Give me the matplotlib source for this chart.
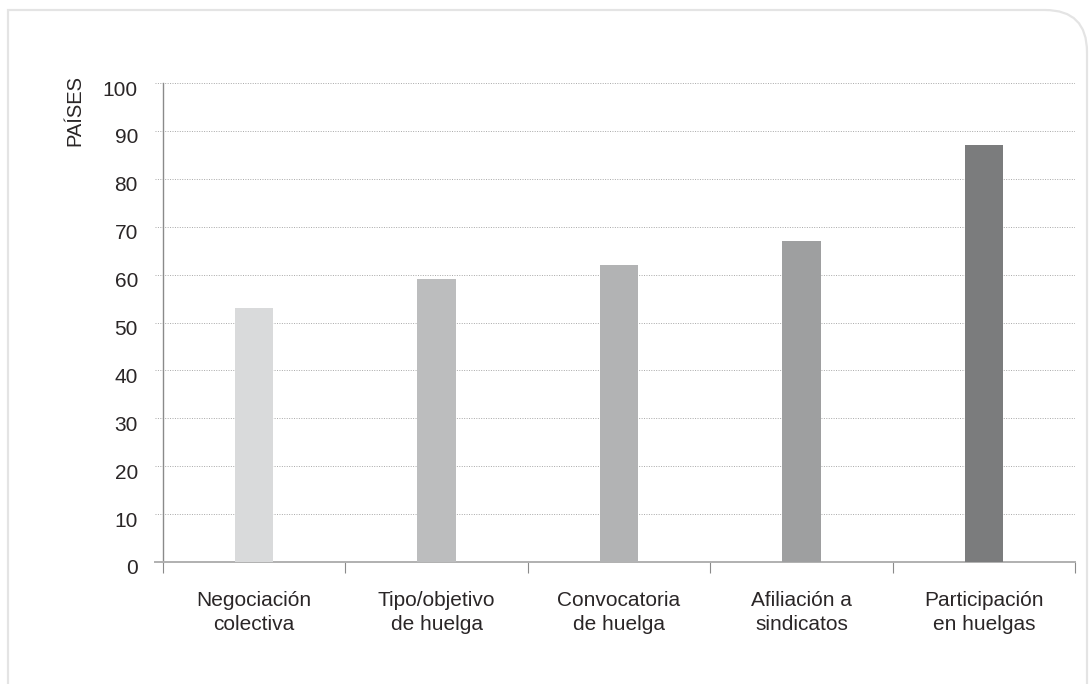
import matplotlib
matplotlib.use('Agg')
import matplotlib.pyplot as plt
import matplotlib.transforms as mtransforms
from matplotlib.path import Path
from matplotlib.patches import PathPatch

categories = ['Negociación\ncolectiva', 'Tipo/objetivo\nde huelga',
              'Convocatoria\nde huelga', 'Afiliación a\nsindicatos',
              'Participación\nen huelgas']
values = [53, 59, 62, 67, 87]
bar_colors = ['#d9dadb', '#bcbdbe', '#b2b3b4', '#9e9fa0', '#7b7c7d']
y_ticks = list(range(0, 101, 10))
y_label = 'PAÍSES'

plt.rcParams['font.family'] = ['Liberation Sans', 'DejaVu Sans']
text_color = '#2a2627'

fig = plt.figure(figsize=(10.9, 6.84), dpi=100)

# frame with rounded top-right corner, drawn in pixel coords
bg = fig.add_axes([0, 0, 1, 1], zorder=-1)
bg.set_xlim(0, 1090)
bg.set_ylim(684, 0)
bg.axis('off')
r = 42
verts = [(8, 700), (8, 10), (1087 - r, 10), (1087, 10), (1087, 10 + r), (1087, 700)]
codes = [Path.MOVETO, Path.LINETO, Path.LINETO, Path.CURVE3, Path.CURVE3, Path.LINETO]
bg.add_patch(PathPatch(Path(verts, codes), fill=False, edgecolor='#e4e4e4', lw=1.6))

ax = fig.add_axes([155 / 1090, 122 / 684, 920 / 1090, 479 / 684])
x = range(len(categories))
ax.bar(x, values, width=0.21, color=bar_colors, zorder=3)

ax.set_xlim(-0.5 - 8 / 183, 4.5)
ax.set_ylim(0, 100)
ax.set_yticks(y_ticks)
ax.grid(axis='y', color='#a8a8a8', ls=(0, (1, 1.5)), lw=0.7, zorder=0)

for side in ['top', 'right']:
    ax.spines[side].set_visible(False)
ax.spines['left'].set_position(('data', -0.5))
ax.spines['left'].set_color('#8a8a8a')
ax.spines['left'].set_linewidth(1.0)
ax.spines['bottom'].set_color('#b0b0b0')
ax.spines['bottom'].set_linewidth(1.4)

ax.tick_params(axis='y', length=0, pad=18, labelsize=15, labelcolor=text_color)
offset = mtransforms.ScaledTranslation(0, -5 / 100, fig.dpi_scale_trans)
for lbl in ax.get_yticklabels():
    lbl.set_transform(lbl.get_transform() + offset)

# category boundaries as ticks, labels on centers
ax.set_xticks([i - 0.5 for i in range(len(categories) + 1)])
ax.set_xticklabels([])
ax.tick_params(axis='x', which='major', length=8, width=0.8, color='#8a8a8a')
ax.set_xticks(list(x), minor=True)
ax.set_xticklabels(categories, minor=True)
ax.tick_params(axis='x', which='minor', length=0, pad=21, labelsize=15,
               labelcolor=text_color)
for lbl in ax.get_xticklabels(minor=True):
    lbl.set_linespacing(1.3)

fig.text(75 / 1090, 1 - 110 / 684, y_label, rotation=90, ha='center', va='center',
         fontsize=14.5, color=text_color)

fig.savefig('out.png', dpi=100)
